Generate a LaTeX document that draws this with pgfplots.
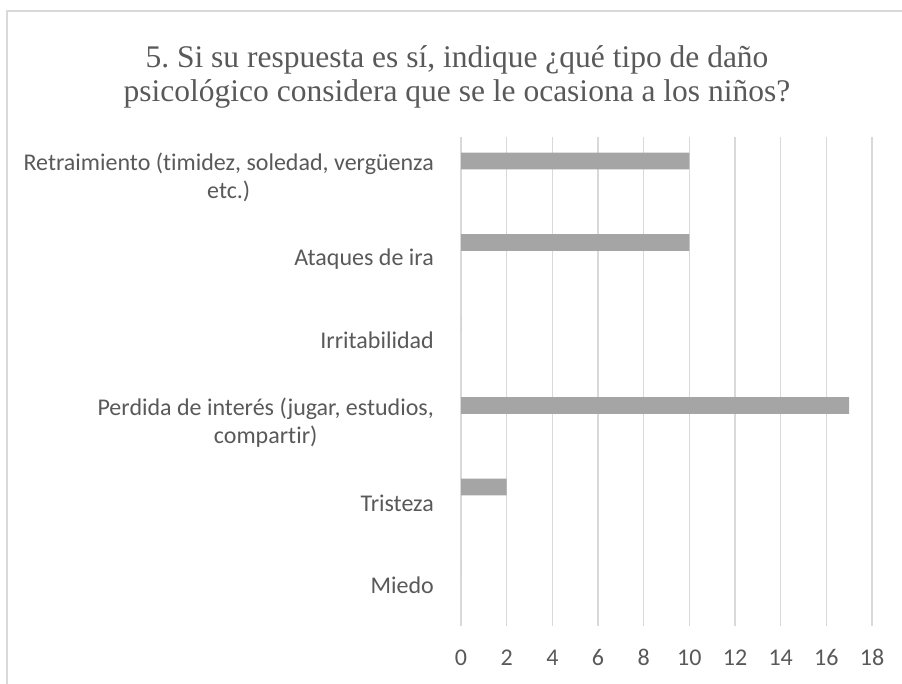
\documentclass[border=0pt]{standalone}
\usepackage{pgfplots}
\pgfplotsset{compat=1.18}
\usepackage{fontspec}
\setmainfont{Carlito}[Ligatures=NoCommon]
\newfontfamily\titlefont{Liberation Serif}
\definecolor{txt}{HTML}{595959}
\definecolor{gridc}{HTML}{D9D9D9}
\definecolor{barc}{HTML}{A5A5A5}
\frenchspacing
\begin{document}
\begin{tikzpicture}[x=1pt,y=1pt]
\useasboundingbox (0,0) rectangle (902,683);
\draw[gridc, line width=1.3pt] (7,-20) -- (7,672) -- (930,672);
\node[text=txt, anchor=base, inner sep=0pt, font=\titlefont\fontsize{31.5}{34}\selectfont] at (457,615)
  {5. Si su respuesta es sí, indique ¿qué tipo de daño};
\node[text=txt, anchor=base, inner sep=0pt, font=\titlefont\fontsize{31.5}{34}\selectfont] at (457,581)
  {psicológico considera que se le ocasiona a los niños?};
\begin{axis}[
  at={(461pt,57pt)}, anchor=south west,
  scale only axis, width=411pt, height=489pt,
  xmin=0, xmax=18, ymin=-0.5, ymax=5.5,
  xtick={0,2,...,18},
  ytick={0,1,2,3,4,5},
  yticklabels={Miedo, Tristeza, {Perdida de interés (jugar, estudios,\\compartir)}, Irritabilidad, Ataques de ira, {Retraimiento (timidez, soledad, vergüenza\\etc.)}},
  xmajorgrids,
  grid style={gridc, line width=1.5pt},
  axis line style={draw=none},
  major tick length=0pt,
  tick style={draw=none},
  /pgf/number format/assume math mode=true,
  ticklabel style={text=txt, font=\fontsize{24}{28}\selectfont},
  yticklabel style={align=center, anchor=east, xshift=-27pt, inner sep=0pt},
  xticklabel style={anchor=base, yshift=-39pt, inner sep=0pt},
]
\addplot[xbar, fill=barc, draw=none, bar width=0.204] coordinates {
  (10,5.205) (10,4.205) (0,3.205) (17,2.205) (2,1.205) (0,0.205)
};
\end{axis}
\end{tikzpicture}
\end{document}
